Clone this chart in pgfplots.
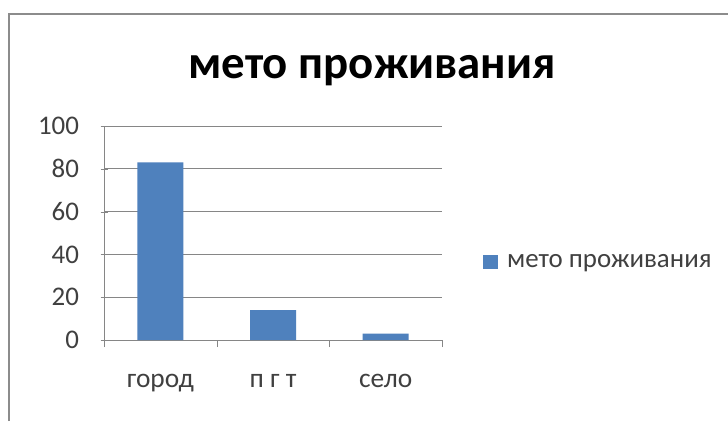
\documentclass[border=0pt]{standalone}
\usepackage{fontspec}
\setmainfont{Carlito}
\usepackage{pgfplots}
\pgfplotsset{compat=1.18}
\definecolor{barblue}{RGB}{79,129,189}
\definecolor{gridgray}{RGB}{134,134,134}
\definecolor{framegray}{RGB}{140,140,140}
\definecolor{txtgray}{RGB}{64,64,64}
\begin{document}
\begin{tikzpicture}[x=1bp,y=1bp]
\path[use as bounding box] (0,0) rectangle (728,421);
\fill[white] (0,0) rectangle (728,421);
% chart frame (only top and left visible)
\draw[framegray, line width=2bp] (9,0) -- (9,407) -- (730,407);
\node[font=\fontsize{47}{52}\selectfont\bfseries, anchor=base, inner sep=0pt] at (372,343) {мето проживания};
\begin{axis}[
  at={(104bp,81bp)}, anchor=south west,
  scale only axis, width=338bp, height=214bp,
  xmin=-0.5, xmax=2.5, ymin=0, ymax=100,
  ytick={0,20,40,60,80,100},
  xtick={0,1,2},
  xticklabels={город, п г т, село},
  minor xtick={-0.5,0.5,1.5,2.5},
  major x tick style={draw=none},
  minor x tick style={gridgray},
  minor tick length=7bp,
  major tick length=7bp,
  tick align=outside,
  ytick style={gridgray},
  axis lines=left,
  axis line style={-, gridgray, line width=0.8bp},
  ymajorgrids, grid style={gridgray, line width=0.8bp},
  ybar, bar width=46bp,
  tick label style={font=\fontsize{27}{30}\selectfont, text=txtgray},
  xticklabel style={font=\fontsize{27.5}{30}\selectfont, yshift=-24bp},
  /pgf/number format/assume math mode=true,
  yticklabel style={xshift=-18bp},
  legend style={at={(axis description cs:1.121,0.364)}, anchor=west, draw=none, fill=none,
    font=\fontsize{27}{30}\selectfont, text=txtgray, inner xsep=0pt},
  legend image code/.code={\fill[barblue] (0bp,-7bp) rectangle (15bp,7bp); \path (22bp,0bp);},
]
\addplot[fill=barblue, draw=none] coordinates {(0,83) (1,14) (2,3)};
\legend{мето проживания}
\end{axis}
\end{tikzpicture}
\end{document}
